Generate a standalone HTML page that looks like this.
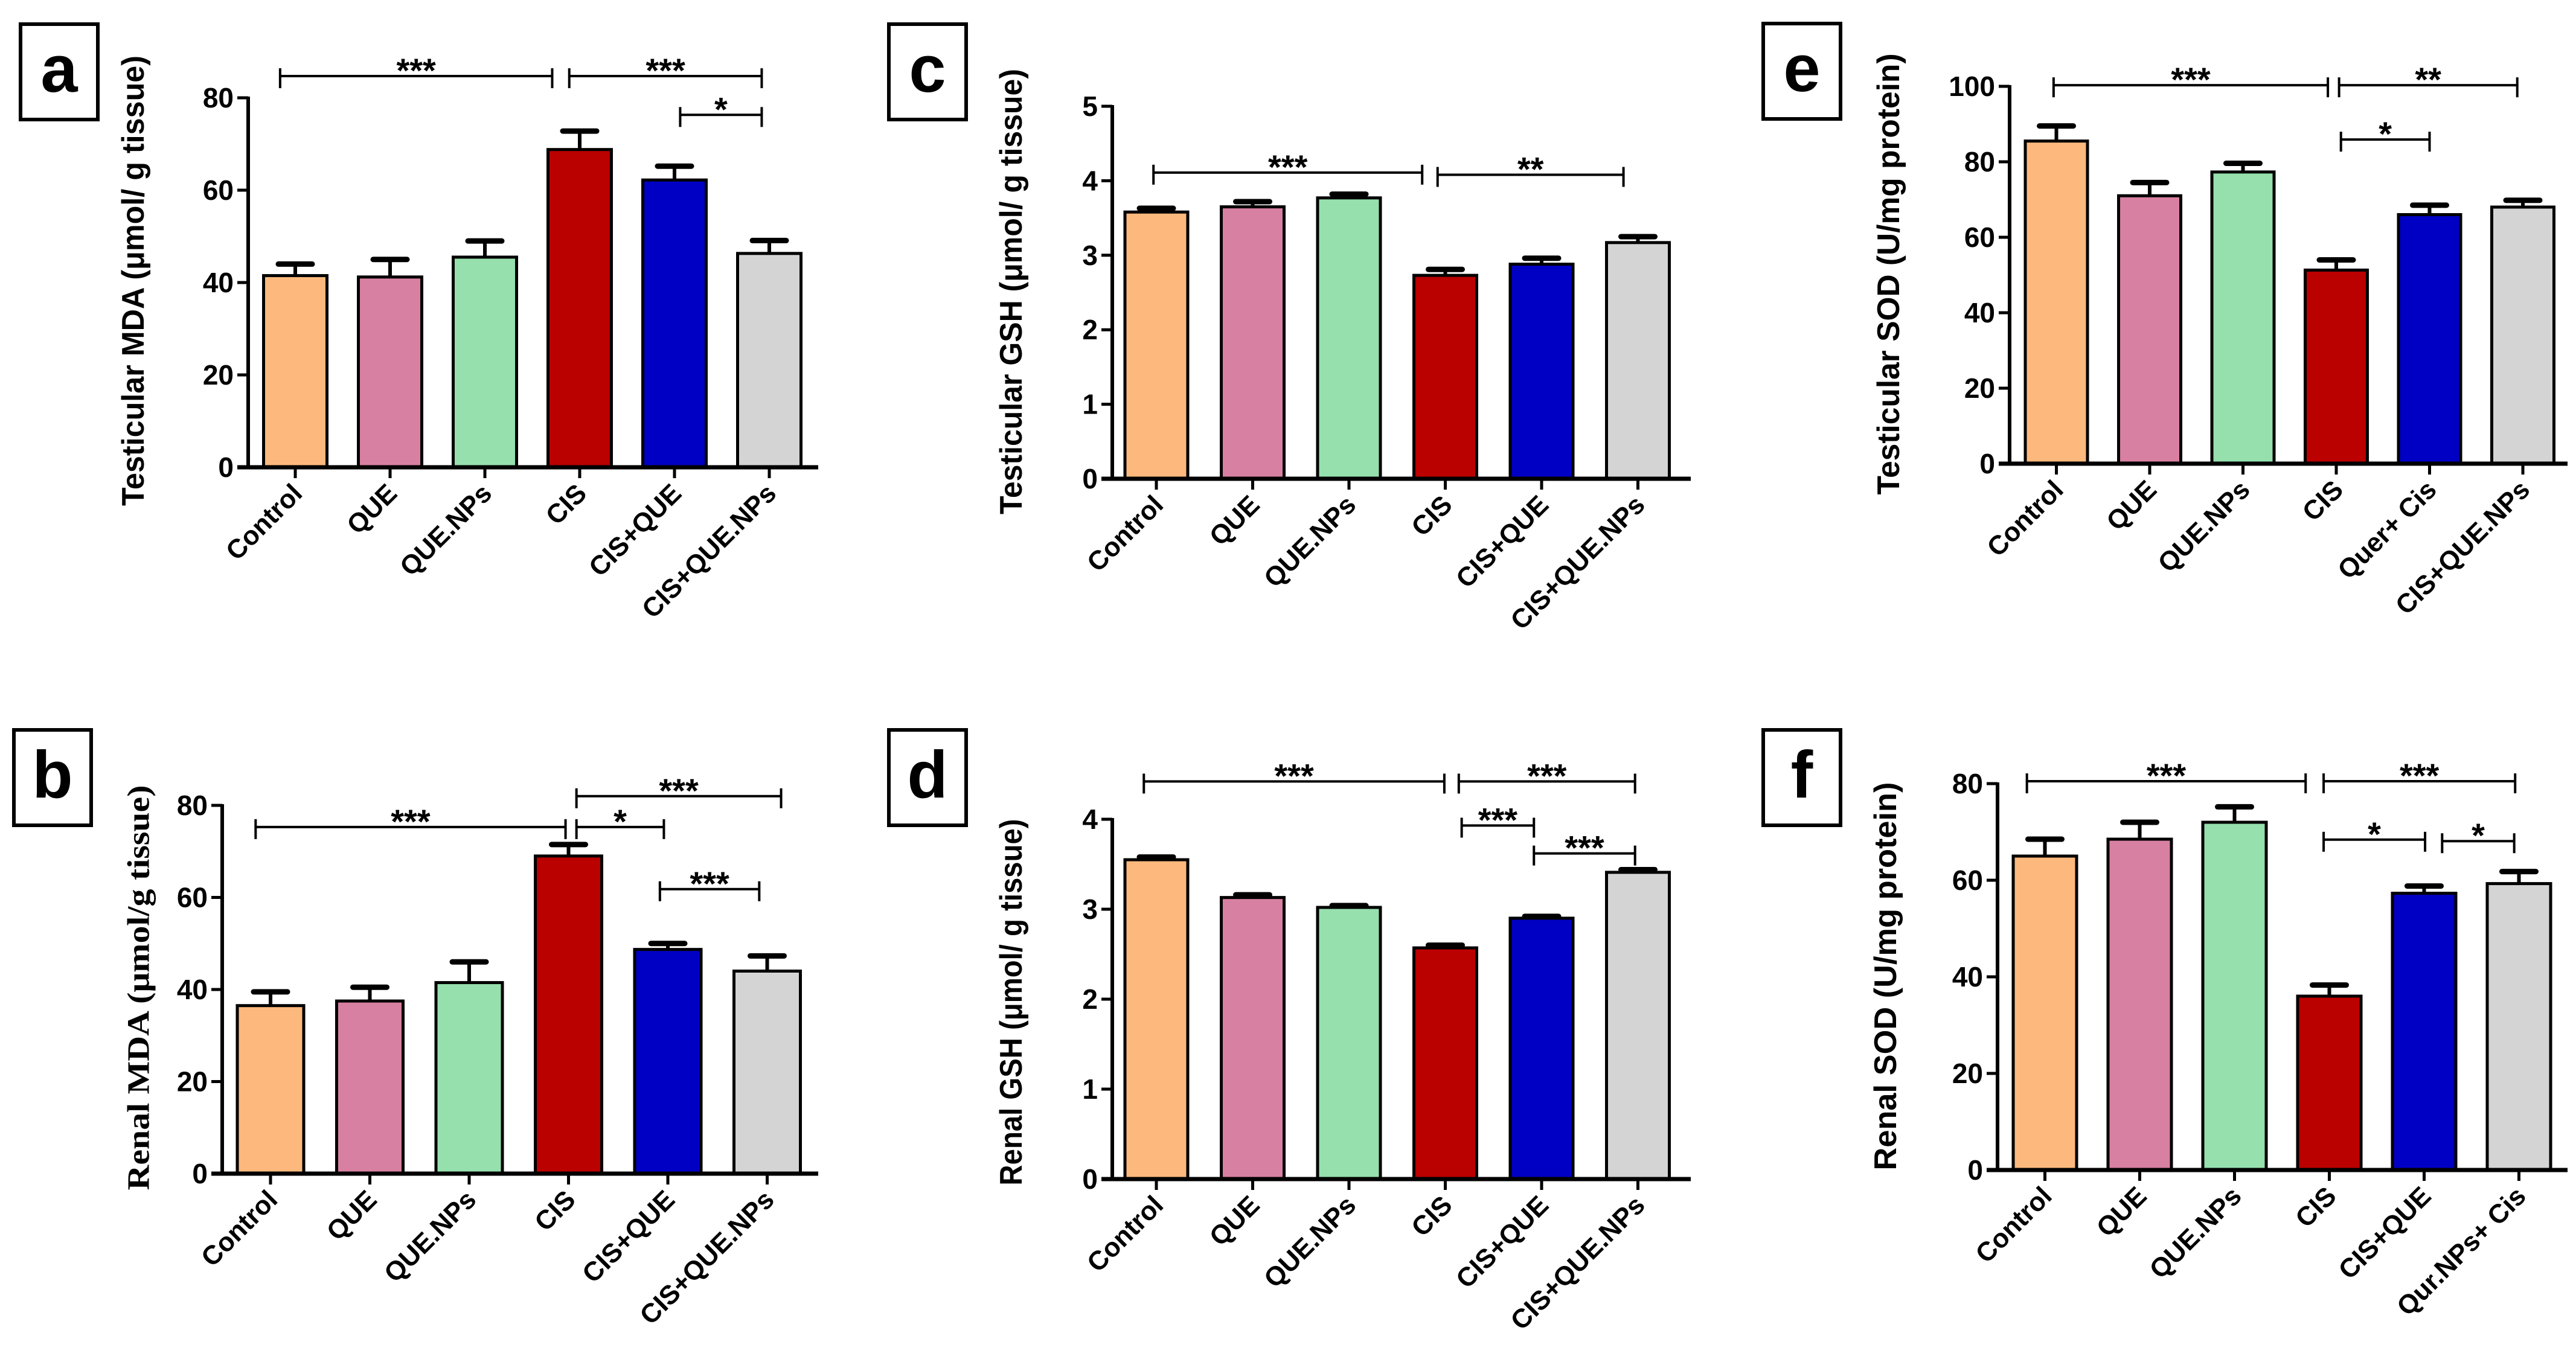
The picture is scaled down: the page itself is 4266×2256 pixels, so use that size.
<!DOCTYPE html>
<html><head><meta charset="utf-8">
<style>
html,body{margin:0;padding:0;background:#fff;}
svg{display:block;}
text{font-family:"Liberation Sans",sans-serif;font-weight:bold;fill:#000;}
</style></head>
<body>
<svg id="fig" width="4266" height="2256" viewBox="0 0 4266 2256" xmlns="http://www.w3.org/2000/svg"></svg>
<script>
// ---- shared categories / colors ----
const catsStd = ["Control","QUE","QUE.NPs","CIS","CIS+QUE","CIS+QUE.NPs"];
const catsE = ["Control","QUE","QUE.NPs","CIS","Quer+ Cis","CIS+QUE.NPs"];
const catsF = ["Control","QUE","QUE.NPs","CIS","CIS+QUE","Qur.NPs+ Cis"];
const barColors = ["#FDB97D","#D880A2","#96E0AE","#BB0000","#0000C4","#D4D4D4"];

// ---- panel a: Testicular MDA ----
const aMeans = [41.5,41.2,45.5,68.8,62.2,46.3];
const aErrs = [2.5,3.8,3.5,4.0,3.0,2.8];
const aTicks = [0,20,40,60,80];
const aSig = [[-0.16,2.71,84.7,"***"],[2.89,4.92,84.7,"***"],[4.06,4.92,76.3,"*"]];
// ---- panel b: Renal MDA ----
const bMeans = [36.5,37.5,41.5,69.0,48.7,44.0];
const bErrs = [3.0,3.0,4.5,2.5,1.3,3.3];
const bTicks = [0,20,40,60,80];
const bSig = [[-0.15,2.97,75.3,"***"],[3.08,3.96,75.3,"*"],[3.08,5.14,82,"***"],[3.92,4.92,61.8,"***"]];
// ---- panel c: Testicular GSH ----
const cMeans = [3.58,3.65,3.77,2.73,2.88,3.17];
const cErrs = [0.05,0.07,0.05,0.08,0.08,0.08];
const cTicks = [0,1,2,3,4,5];
const cSig = [[-0.03,2.76,4.11,"***"],[2.92,4.85,4.08,"**"]];
// ---- panel d: Renal GSH ----
const dMeans = [3.55,3.13,3.02,2.57,2.90,3.41];
const dErrs = [0.03,0.03,0.02,0.03,0.02,0.03];
const dTicks = [0,1,2,3,4];
const dSig = [[-0.13,2.99,4.42,"***"],[3.14,4.97,4.42,"***"],[3.17,3.92,3.93,"***"],[3.92,4.97,3.62,"***"]];
// ---- panel e: Testicular SOD ----
const eMeans = [85.5,71.0,77.3,51.3,66.0,68.0];
const eErrs = [4.0,3.5,2.3,2.7,2.5,1.8];
const eTicks = [0,20,40,60,80,100];
const eSig = [[-0.03,2.91,100.3,"***"],[3.03,4.94,100.3,"**"],[3.05,4.0,85.9,"*"]];
// ---- panel f: Renal SOD ----
const fMeans = [65.0,68.5,72.0,36.0,57.3,59.3];
const fErrs = [3.5,3.5,3.2,2.3,1.5,2.5];
const fTicks = [0,20,40,60,80];
const fSig = [[-0.19,2.75,80.5,"***"],[2.94,4.96,80.5,"***"],[2.94,4.01,68.4,"*"],[4.19,4.95,68.1,"*"]];

const NS="http://www.w3.org/2000/svg";
const svg=document.getElementById('fig');
function mk(tag,attrs,parent){const e=document.createElementNS(NS,tag);for(const k in attrs)e.setAttribute(k,attrs[k]);(parent||svg).appendChild(e);return e;}

function panel(p){
  const g=mk('g',{});
  
  
  const maxV=p.ticks[p.ticks.length-1];
  const ys=v=>p.y0-(v/maxV)*(p.y0-p.yTop);
  const xs=i=>p.first+i*p.pitch;
  const box=mk('rect',{x:p.box[0],y:p.box[1],width:128,height:158,fill:'#fff',stroke:'#000','stroke-width':6},g);
  
  
  const lt=mk('text',{x:p.box[0]+64,y:p.box[1]+112,'font-size':110,'text-anchor':'middle'},g);
  lt.textContent=p.id;
  
  
  const tt=mk('text',{x:0,y:0,'font-size':52,'text-anchor':'middle','dominant-baseline':'central',transform:`translate(${p.tx},${p.ty}) rotate(-90)`,textLength:p.tlen,lengthAdjust:'spacingAndGlyphs'},g);
  if(p.serif) tt.setAttribute('style','font-family:"Liberation Serif",serif;');
  tt.textContent=p.title;
  
  
  p.means.forEach((m,i)=>{
    const cx=xs(i),top=ys(m),et=ys(m+p.errs[i]);
    const eb=mk('line',{x1:cx,y1:top,x2:cx,y2:et,stroke:'#000','stroke-width':6},g);
    
    
    const cap=mk('line',{x1:cx-28,y1:et,x2:cx+28,y2:et,stroke:'#000','stroke-width':9,'stroke-linecap':'round'},g);
    
    
    const r=mk('rect',{x:cx-p.bw/2,y:top,width:p.bw,height:p.y0-top,fill:barColors[i],stroke:'#000','stroke-width':5},g);
    
    
    const tk=mk('line',{x1:cx,y1:p.y0,x2:cx,y2:p.y0+18,stroke:'#000','stroke-width':5},g);
    
    
    const lb=mk('text',{x:0,y:0,'font-size':44,'text-anchor':'end',transform:`translate(${cx+14},${p.y0+46}) rotate(-45)`},g);
    lb.textContent=p.cats[i];
    
    
  });
  const ya=mk('line',{x1:p.ax,y1:p.yTop-2,x2:p.ax,y2:p.y0,stroke:'#000','stroke-width':6},g);
  
  
  const xa=mk('line',{x1:p.ax-18,y1:p.y0,x2:p.axEnd,y2:p.y0,stroke:'#000','stroke-width':7},g);
  
  
  p.ticks.forEach(t=>{
    const y=ys(t);
    const l=mk('line',{x1:p.ax-18,y1:y,x2:p.ax,y2:y,stroke:'#000','stroke-width':5},g);
    
    
    const tx=mk('text',{x:p.ax-24,y:y+16,'font-size':46,'text-anchor':'end',style:'font-family:"Liberation Sans Narrow","Liberation Sans",sans-serif;'},g);
    tx.textContent=String(t);
    
    
  });
  p.sig.forEach(s=>{
    const x1=xs(s[0]),x2=xs(s[1]),y=ys(s[2]);
    const bg=mk('g',{},g);
    
    
    mk('line',{x1:x1,y1:y,x2:x2,y2:y,stroke:'#000','stroke-width':4},bg);
    mk('line',{x1:x1,y1:y-13,x2:x1,y2:y+20,stroke:'#000','stroke-width':4},bg);
    mk('line',{x1:x2,y1:y-13,x2:x2,y2:y+20,stroke:'#000','stroke-width':4},bg);
    const st=mk('text',{x:(x1+x2)/2,y:y+10,'font-size':56,'text-anchor':'middle'},bg);
    st.textContent=s[3];
    
    
  });
}

panel({id:'a',cats:catsStd,means:aMeans,errs:aErrs,ticks:aTicks,sig:aSig,ax:411,axEnd:1355,y0:774,yTop:162,first:489,pitch:157,bw:105,box:[34,40],title:"Testicular MDA (μmol/ g tissue)",tx:221,ty:465,tlen:746});
panel({id:'b',cats:catsStd,means:bMeans,errs:bErrs,ticks:bTicks,sig:bSig,ax:368,axEnd:1355,y0:1944,yTop:1334,first:448,pitch:164.5,bw:110,box:[23,1209],title:"Renal MDA (μmol/g tissue)",tx:230,ty:1636,tlen:671,serif:true});
panel({id:'c',cats:catsStd,means:cMeans,errs:cErrs,ticks:cTicks,sig:cSig,ax:1842,axEnd:2800,y0:793,yTop:176,first:1915,pitch:159.5,bw:104,box:[1472,40],title:"Testicular GSH (μmol/ g tissue)",tx:1675,ty:483,tlen:738});
panel({id:'d',cats:catsStd,means:dMeans,errs:dErrs,ticks:dTicks,sig:dSig,ax:1842,axEnd:2800,y0:1953,yTop:1357,first:1915,pitch:159.5,bw:104,box:[1472,1209],title:"Renal GSH (μmol/ g tissue)",tx:1675,ty:1660,tlen:607});
panel({id:'e',cats:catsE,means:eMeans,errs:eErrs,ticks:eTicks,sig:eSig,ax:3328,axEnd:4252,y0:768,yTop:143,first:3405.5,pitch:154.5,bw:103,box:[2920,39],title:"Testicular SOD (U/mg protein)",tx:3128,ty:454,tlen:731});
panel({id:'f',cats:catsF,means:fMeans,errs:fErrs,ticks:fTicks,sig:fSig,ax:3308,axEnd:4252,y0:1938,yTop:1298,first:3386.5,pitch:157,bw:105,box:[2920,1209],title:"Renal SOD (U/mg protein)",tx:3123,ty:1617,tlen:643});
</script>
</body></html>
